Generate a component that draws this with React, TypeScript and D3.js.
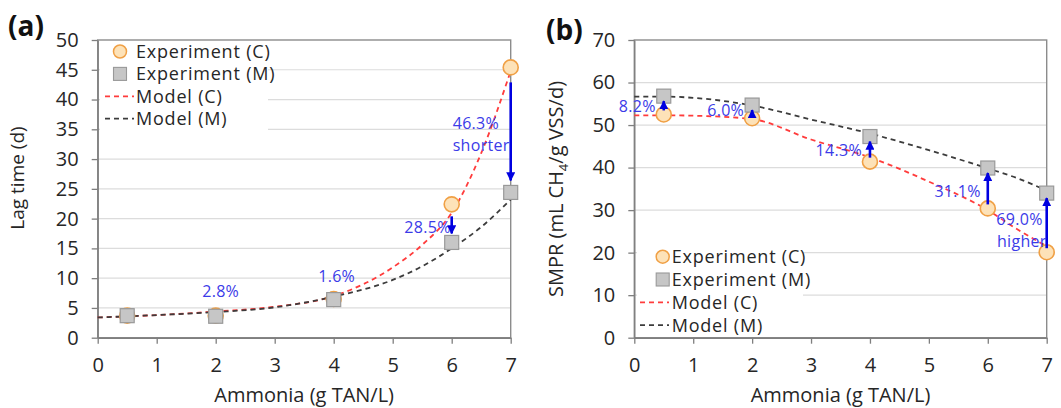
import React, { useEffect, useRef } from "react";
import * as d3 from "d3";

// Ammonia levels of the experiments (g TAN/L)
const ammonia = [0.5, 2, 4, 6, 7];
const xTicks = [0, 1, 2, 3, 4, 5, 6, 7];

// (a) lag time (d)
const lagExpC = [3.7, 3.7, 6.5, 22.4, 45.4];
const lagExpM = [3.7, 3.6, 6.4, 16.0, 24.4];
const lagModelX = [0, 1, 2, 3, 4, 5, 5.5, 6, 6.5, 7];
const lagModelC = [3.4, 3.8, 4.4, 5.2, 7.0, 11.8, 15.6, 21.0, 31.0, 44.8];
const lagModelM = [3.4, 3.8, 4.3, 5.1, 6.9, 9.7, 12.0, 15.0, 18.6, 23.2];
const lagLabels = ["", "2.8%", "1.6%", "28.5%", "46.3%"];

// (b) SMPR (mL CH4/g VSS/d)
const smprExpC = [52.5, 51.6, 41.4, 30.4, 20.1];
const smprExpM = [56.8, 54.7, 47.3, 39.9, 34.0];
const smprModelX = [0, 0.5, 1, 2, 3, 4, 5, 6, 6.5, 7];
const smprModelC = [52.3, 52.3, 52.2, 51.4, 46.6, 42.4, 36.7, 30.0, 25.5, 21.5];
const smprModelM = [56.7, 56.7, 56.4, 54.6, 51.3, 48.0, 44.1, 39.8, 37.5, 34.6];
const smprLabels = ["8.2%", "6.0%", "14.3%", "31.1%", "69.0%"];

const legendNames = ["Experiment (C)", "Experiment (M)", "Model (C)", "Model (M)"];

const FONT = "'Open Sans', sans-serif";
const RED = "#ff3c3c";
const DARK = "#3c3c3c";
const BLUE_TXT = "#3b3be8";
const ARROW = "#0000e0";

const drawPanel = (svg: any, p: any) => {
  const x = d3.scaleLinear().domain([0, 7]).range([p.left, p.right]);
  const y = d3.scaleLinear().domain([0, p.yMax]).range([p.bottom, p.top]);
  const g = svg.append("g");
  const yTicks = d3.range(0, p.yMax + 0.001, p.yStep);

  // gridlines
  g.selectAll("line.grid")
    .data(yTicks.filter((v) => v > 0 && v < p.yMax))
    .join("line")
    .attr("x1", p.left)
    .attr("x2", p.right)
    .attr("y1", (d) => y(d))
    .attr("y2", (d) => y(d))
    .attr("stroke", "#dcdcdc")
    .attr("stroke-width", 1.2);

  // plot frame
  g.append("rect")
    .attr("x", p.left)
    .attr("y", p.top)
    .attr("width", p.right - p.left)
    .attr("height", p.bottom - p.top)
    .attr("fill", "none")
    .attr("stroke", "#8c8c8c")
    .attr("stroke-width", 1.4);

  const styleAxis = (s: any) => {
    s.attr("font-family", FONT).attr("font-size", 20);
    s.select(".domain").attr("stroke", "#7f7f7f").attr("stroke-width", 1.4);
    s.selectAll(".tick line").attr("stroke", "#7f7f7f").attr("stroke-width", 1.3);
    s.selectAll(".tick text").attr("fill", "#262626");
  };

  g.append("g")
    .attr("transform", `translate(${p.left},0)`)
    .call(d3.axisLeft(y).tickValues(yTicks).tickSize(6).tickSizeOuter(0).tickPadding(13).tickFormat(d3.format("d")))
    .call(styleAxis);

  g.append("g")
    .attr("transform", `translate(0,${p.bottom})`)
    .call(d3.axisBottom(x).tickValues(xTicks).tickSize(6).tickSizeOuter(0).tickPadding(14).tickFormat(d3.format("d")))
    .call(styleAxis);

  // axis titles
  g.append("text")
    .attr("x", (p.left + p.right) / 2)
    .attr("y", 402)
    .attr("text-anchor", "middle")
    .attr("font-family", FONT)
    .attr("font-size", 20)
    .attr("fill", "#262626")
    .text("Ammonia (g TAN/L)");

  const yt = g
    .append("text")
    .attr("transform", `translate(${p.yTitleX},${p.yTitleY}) rotate(-90)`)
    .attr("text-anchor", "middle")
    .attr("font-family", FONT)
    .attr("font-size", p.yTitleSize)
    .attr("fill", "#262626");
  p.yTitle(yt);

  // panel letter
  g.append("text")
    .attr("x", p.letterX)
    .attr("y", p.letterY)
    .attr("font-family", FONT)
    .attr("font-weight", "bold")
    .attr("font-size", 28)
    .attr("fill", "#111")
    .text(p.letter);

  // model curves
  const line = d3
    .line<number>()
    .x((d, i) => x(p.modelX[i]))
    .y((d) => y(d))
    .curve(d3.curveMonotoneX);

  g.append("path")
    .attr("d", line(p.modelC))
    .attr("fill", "none")
    .attr("stroke", RED)
    .attr("stroke-width", 1.8)
    .attr("stroke-dasharray", "5,4");

  g.append("path")
    .attr("d", line(p.modelM))
    .attr("fill", "none")
    .attr("stroke", DARK)
    .attr("stroke-width", 1.8)
    .attr("stroke-dasharray", "5,4");

  // experiments
  g.selectAll("circle.expC")
    .data(p.expC)
    .join("circle")
    .attr("cx", (d, i) => x(ammonia[i]))
    .attr("cy", (d) => y(d))
    .attr("r", 7.5)
    .attr("fill", "#fde2b8")
    .attr("stroke", "#f0a045")
    .attr("stroke-width", 1.6);

  g.selectAll("rect.expM")
    .data(p.expM)
    .join("rect")
    .attr("x", (d, i) => x(ammonia[i]) - 7)
    .attr("y", (d) => y(d) - 7)
    .attr("width", 14)
    .attr("height", 14)
    .attr("fill", "#c6c6c6")
    .attr("stroke", "#999")
    .attr("stroke-width", 1.2);

  // legend
  const lg = g.append("g");
  const L = p.legend;
  lg.append("rect")
    .attr("x", L.boxX)
    .attr("y", L.boxY)
    .attr("width", L.boxW)
    .attr("height", L.boxH)
    .attr("fill", "#fff");
  const rowY = (i: number) => L.y0 + i * L.step;
  lg.append("circle")
    .attr("cx", L.markX)
    .attr("cy", rowY(0))
    .attr("r", 6.5)
    .attr("fill", "#fde2b8")
    .attr("stroke", "#f0a045")
    .attr("stroke-width", 1.5);
  lg.append("rect")
    .attr("x", L.markX - 6.5)
    .attr("y", rowY(1) - 6.5)
    .attr("width", 13)
    .attr("height", 13)
    .attr("fill", "#c6c6c6")
    .attr("stroke", "#999")
    .attr("stroke-width", 1.1);
  [RED, DARK].forEach((c, k) => {
    lg.append("line")
      .attr("x1", L.lineX1)
      .attr("x2", L.lineX2)
      .attr("y1", rowY(2 + k))
      .attr("y2", rowY(2 + k))
      .attr("stroke", c)
      .attr("stroke-width", 1.8)
      .attr("stroke-dasharray", "5,4");
  });
  lg.selectAll("text")
    .data(legendNames)
    .join("text")
    .attr("x", L.textX)
    .attr("y", (d, i) => rowY(i))
    .attr("dy", "0.36em")
    .attr("font-family", FONT)
    .attr("font-size", 18)
    .attr("letter-spacing", 0.8)
    .attr("fill", "#262626")
    .text((d) => d);

  return { g, x, y };
};

const arrow = (g: any, x: number, y1: number, y2: number) =>
  g
    .append("line")
    .attr("x1", x)
    .attr("x2", x)
    .attr("y1", y1)
    .attr("y2", y2)
    .attr("stroke", ARROW)
    .attr("stroke-width", 2.6)
    .attr("marker-end", "url(#arrowHead)");

const note = (g: any, x: number, y: number, t: string, anchor = "middle") =>
  g
    .append("text")
    .attr("x", x)
    .attr("y", y)
    .attr("dy", "0.36em")
    .attr("text-anchor", anchor)
    .attr("font-family", FONT)
    .attr("font-size", 16)
    .attr("letter-spacing", 0.3)
    .attr("fill", BLUE_TXT)
    .text(t);

const App = () => {
  const ref = useRef<SVGSVGElement>(null);

  useEffect(() => {
    const svg = d3.select(ref.current);
    svg.selectAll("*").remove();

    svg
      .append("defs")
      .append("marker")
      .attr("id", "arrowHead")
      .attr("viewBox", "0 0 10 10")
      .attr("refX", 9)
      .attr("refY", 5)
      .attr("markerWidth", 9)
      .attr("markerHeight", 9)
      .attr("markerUnits", "userSpaceOnUse")
      .attr("orient", "auto")
      .append("path")
      .attr("d", "M0,0L10,5L0,10z")
      .attr("fill", ARROW);

    // (a) lag time
    const a = drawPanel(svg, {
      left: 97.7,
      right: 510.7,
      top: 40,
      bottom: 337.7,
      yMax: 50,
      yStep: 5,
      letter: "(a)",
      letterX: 8,
      letterY: 36,
      yTitleX: 24,
      yTitleY: 178,
      yTitleSize: 19,
      yTitle: (t: any) => t.text("Lag time (d)"),
      expC: lagExpC,
      expM: lagExpM,
      modelX: lagModelX,
      modelC: lagModelC,
      modelM: lagModelM,
      legend: {
        boxX: 100, boxY: 42, boxW: 168, boxH: 88,
        y0: 51.5, step: 22.4, markX: 120, lineX1: 105, lineX2: 134, textX: 136,
      },
    });
    // reductions, C -> M
    note(a.g, a.x(ammonia[1]) + 5, a.y(lagExpM[1]) - 25, lagLabels[1]);
    note(a.g, a.x(ammonia[2]) + 3, a.y(lagExpM[2]) - 23, lagLabels[2]);
    note(a.g, a.x(ammonia[3]) - 1, a.y(lagExpM[3]) - 15, lagLabels[3], "end");
    arrow(a.g, a.x(ammonia[3]), a.y(lagExpC[3]) + 12, a.y(lagExpM[3]) - 9);
    note(a.g, a.x(ammonia[4]) - 58, 123, lagLabels[4], "start");
    note(a.g, a.x(ammonia[4]) - 58, 145.5, "shorter", "start");
    arrow(a.g, a.x(ammonia[4]), a.y(lagExpC[4]) + 15, a.y(lagExpM[4]) - 12);

    // (b) SMPR
    const b = drawPanel(svg, {
      left: 634.3,
      right: 1046.7,
      top: 40,
      bottom: 337.7,
      yMax: 70,
      yStep: 10,
      letter: "(b)",
      letterX: 546,
      letterY: 40,
      yTitleX: 563,
      yTitleY: 189,
      yTitleSize: 20,
      yTitle: (t: any) => {
        t.append("tspan").text("SMPR (mL CH");
        t.append("tspan").attr("font-size", 13).attr("dy", 5).text("4");
        t.append("tspan").attr("dy", -5).text("/g VSS/d)");
      },
      expC: smprExpC,
      expM: smprExpM,
      modelX: smprModelX,
      modelC: smprModelC,
      modelM: smprModelM,
      legend: {
        boxX: 637, boxY: 244, boxW: 166, boxH: 92,
        y0: 256.7, step: 22.8, markX: 662.7, lineX1: 640, lineX2: 669, textX: 671.7,
      },
    });
    // increases, C -> M
    const offs = [8, 8, 8, 7, 10];
    smprLabels.forEach((t, i) => {
      const px = b.x(ammonia[i]);
      arrow(b.g, px, b.y(smprExpC[i]) - 4, b.y(smprExpM[i]) + 5);
      if (i < 4) {
        note(b.g, px - offs[i], i < 2 ? b.y(smprExpC[i]) - 8 : b.y(smprExpM[i]) + (i === 2 ? 14 : 23), t, "end");
      }
    });
    note(b.g, b.x(ammonia[4]) - 4, 219.5, smprLabels[4], "end");
    note(b.g, b.x(ammonia[4]), 241, "higher", "end");
  }, []);

  return (
    <svg
      ref={ref}
      width={1061}
      height={408}
      style={{ position: "absolute", left: 0, top: 0, background: "#fff" }}
    />
  );
};

export default App;
